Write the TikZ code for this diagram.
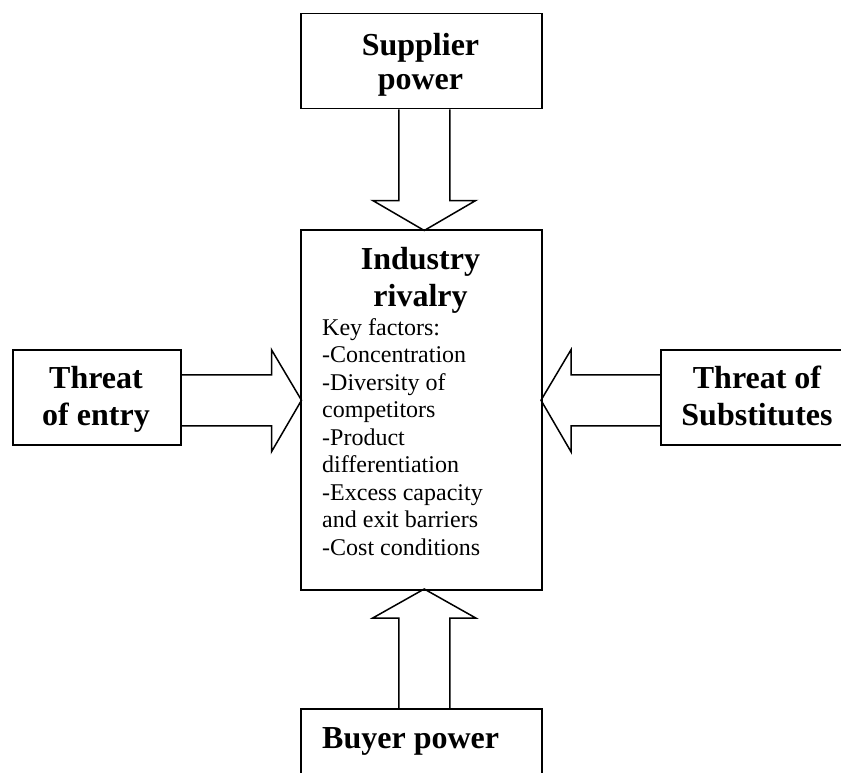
\documentclass[tikz,border=0pt]{standalone}
\usepackage{fontspec}
\setmainfont{Liberation Serif}
\usetikzlibrary{calc}
\begin{document}
\begin{tikzpicture}[x=1pt,y=-1pt,
  box/.style={draw,line width=1.5pt,rectangle,inner sep=0pt,anchor=north west},
  title/.style={font=\fontsize{32}{37}\selectfont\bfseries,align=center,inner sep=0pt,anchor=base},
  body/.style={font=\fontsize{24}{27.5}\selectfont,align=left,inner sep=0pt,anchor=base west},
  flow/.style={draw,line width=1.5pt,line join=miter}]
\useasboundingbox (0,0) rectangle (841,773);
\clip (0,0) rectangle (841,773);

% the five forces boxes
\node[box,minimum width=241pt,minimum height=95pt]  (sup) at (300,13)  {};
\node[box,minimum width=241pt,minimum height=360pt] (ind) at (300,229) {};
\node[box,minimum width=168pt,minimum height=95pt]  (ent) at (12,349)  {};
\node[box,minimum width=194pt,minimum height=95pt]  (sub) at (660,349) {};
\node[box,minimum width=241pt,minimum height=100pt] (buy) at (300,708) {};

% labels (a multi-line node sits on the baseline of its last line)
\node[title,font=\fontsize{32}{34.5}\selectfont\bfseries] (supT) at (420.5,90) {Supplier\\power};
\node[title] (indT) at (420.5,306) {Industry\\rivalry};
\node[title] (entT) at (96,425)    {Threat\\of entry};
\node[title] (subT) at (757,425)   {Threat of\\Substitutes};
\node[title,anchor=base west] (buyT) at (322,748) {Buyer power};
\node[body] (keyT) at (322,555) {Key factors:\\-Concentration\\-Diversity of\\competitors\\-Product\\differentiation\\-Excess capacity\\and exit barriers\\-Cost conditions};

% block arrows pointing at the industry box
\draw[flow] ($(sup.south)+(-22.5,0)$) -- ++(0,91) -- ++(-26,0) -- ++(51.5,30) -- ++(51.5,-30) -- ++(-26,0) -- ++(0,-91);
\draw[flow] ($(buy.north)+(-22.5,0)$) -- ++(0,-90) -- ++(-26,0) -- ++(51.5,-29) -- ++(51.5,29) -- ++(-26,0) -- ++(0,90);
\draw[flow] ($(ent.east)+(0,-22.5)$) -- ++(90,0) -- ++(0,-25) -- ++(30,50.5) -- ++(-30,51.5) -- ++(0,-26) -- ++(-90,0);
\draw[flow] ($(sub.west)+(0,-22.5)$) -- ++(-89,0) -- ++(0,-25) -- ++(-30,50.5) -- ++(30,51.5) -- ++(0,-26) -- ++(89,0);
\end{tikzpicture}
\end{document}
